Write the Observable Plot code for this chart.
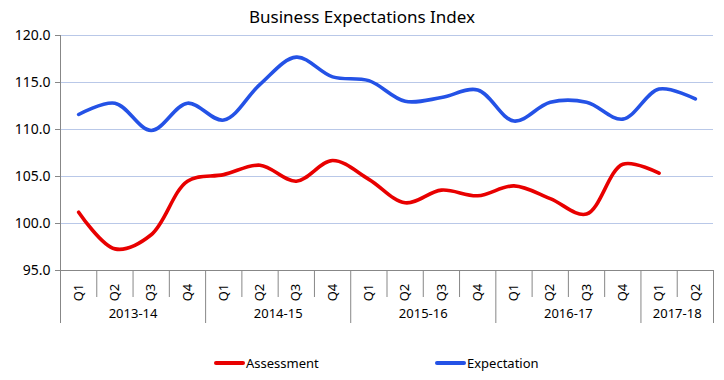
<!DOCTYPE html>
<html><head><meta charset="utf-8">
<script src="https://cdn.jsdelivr.net/npm/d3@7"></script>
<script src="https://cdn.jsdelivr.net/npm/@observablehq/plot@0.6"></script>
<style>
body{margin:0;background:#fff;font-family:"Noto Sans",sans-serif;}
#wrap{position:relative;width:724px;height:380px;overflow:hidden;background:#fff;}
#title{position:absolute;left:0;top:5px;width:724px;text-align:center;font-size:17px;line-height:24px;color:#000;z-index:2;}
#chart{position:absolute;left:0;top:0;}
.lg{position:absolute;font-size:13px;line-height:18px;color:#000;}
.sw{position:absolute;height:4px;width:31px;border-radius:2px;}
</style>
</head><body>
<div id="wrap">
  <div id="chart"></div>
  <div id="title">Business Expectations Index</div>
  <div class="sw" style="left:214px;top:361px;background:#e80000"></div>
  <div class="lg" style="left:246px;top:354px">Assessment</div>
  <div class="sw" style="left:435px;top:361px;background:#2452e6"></div>
  <div class="lg" style="left:467px;top:354px">Expectation</div>
</div>
<script>
const quarters = ["Q1","Q2","Q3","Q4","Q1","Q2","Q3","Q4","Q1","Q2","Q3","Q4","Q1","Q2","Q3","Q4","Q1","Q2"];
const years = ["2013-14","2014-15","2015-16","2016-17","2017-18"];
const assessment = [101.2, 97.3, 98.8, 104.5, 105.2, 106.2, 104.5, 106.7, 104.7, 102.2, 103.55, 102.95, 104.0, 102.65, 101.0, 106.3, 105.35, null];
const expectation = [111.6, 112.8, 109.9, 112.8, 111.0, 114.8, 117.7, 115.6, 115.2, 113.0, 113.4, 114.2, 110.9, 112.9, 112.9, 111.1, 114.3, 113.25];
const yTicks = [95, 100, 105, 110, 115, 120];

const rows = quarters.map((q, i) => ({i, q, year: years[Math.floor(i / 4)], a: assessment[i], e: expectation[i]}));
const yearRows = years.map(y => {
  const idx = rows.filter(r => r.year === y).map(r => r.i);
  return {year: y, mid: d3.mean(idx), start: d3.min(idx) - 0.5, end: d3.max(idx) + 0.5};
});
const yearBounds = Array.from(new Set(yearRows.flatMap(d => [d.start, d.end])));
const quarterBounds = rows.map(r => r.i - 0.5).filter(b => !yearBounds.includes(b));
const yMin = d3.min(yTicks), yMax = d3.max(yTicks);
const axisGray = "#878787";

const chart = Plot.plot({
  width: 724, height: 330,
  marginTop: 35, marginBottom: 60, marginLeft: 60, marginRight: 11,
  x: {domain: [-0.5, quarters.length - 0.5], axis: null},
  y: {domain: [yMin, yMax], axis: null},
  style: {fontFamily: "Noto Sans", fontSize: "14px", color: "#000", background: "transparent"},
  marks: [
    Plot.ruleY(yTicks.filter(t => t > yMin), {y: d => d, stroke: "#b9c8e8", strokeWidth: 1}),
    Plot.axisY({ticks: yTicks, tickSize: 5, tickPadding: 5, tickFormat: d => d.toFixed(1), stroke: axisGray, strokeOpacity: 1, fontSize: 14, label: null}),
    Plot.ruleY([yMin], {y: d => d, stroke: axisGray}),
    Plot.ruleX([-0.5], {x: d => d, y1: yMax, y2: yMin, stroke: axisGray, insetBottom: -53}),
    Plot.ruleX(yearBounds, {x: d => d, y1: yMin, y2: yMin, stroke: axisGray, insetBottom: -53}),
    Plot.ruleX(quarterBounds, {x: d => d, y1: yMin, y2: yMin, stroke: axisGray, insetBottom: -27}),
    Plot.text(rows, {x: "i", y: () => yMin, text: "q", rotate: -90, dy: 22, fontSize: 13, fill: "#000"}),
    Plot.text(yearRows, {x: "mid", y: () => yMin, text: "year", dy: 43, fontSize: 13, fill: "#000"}),
    Plot.line(rows.filter(r => r.a != null), {x: "i", y: "a", stroke: "#e80000", strokeWidth: 3.6, curve: "catmull-rom"}),
    Plot.line(rows, {x: "i", y: "e", stroke: "#2452e6", strokeWidth: 3.6, curve: "catmull-rom"})
  ]
});
document.getElementById("chart").appendChild(chart);
</script>
</body></html>
